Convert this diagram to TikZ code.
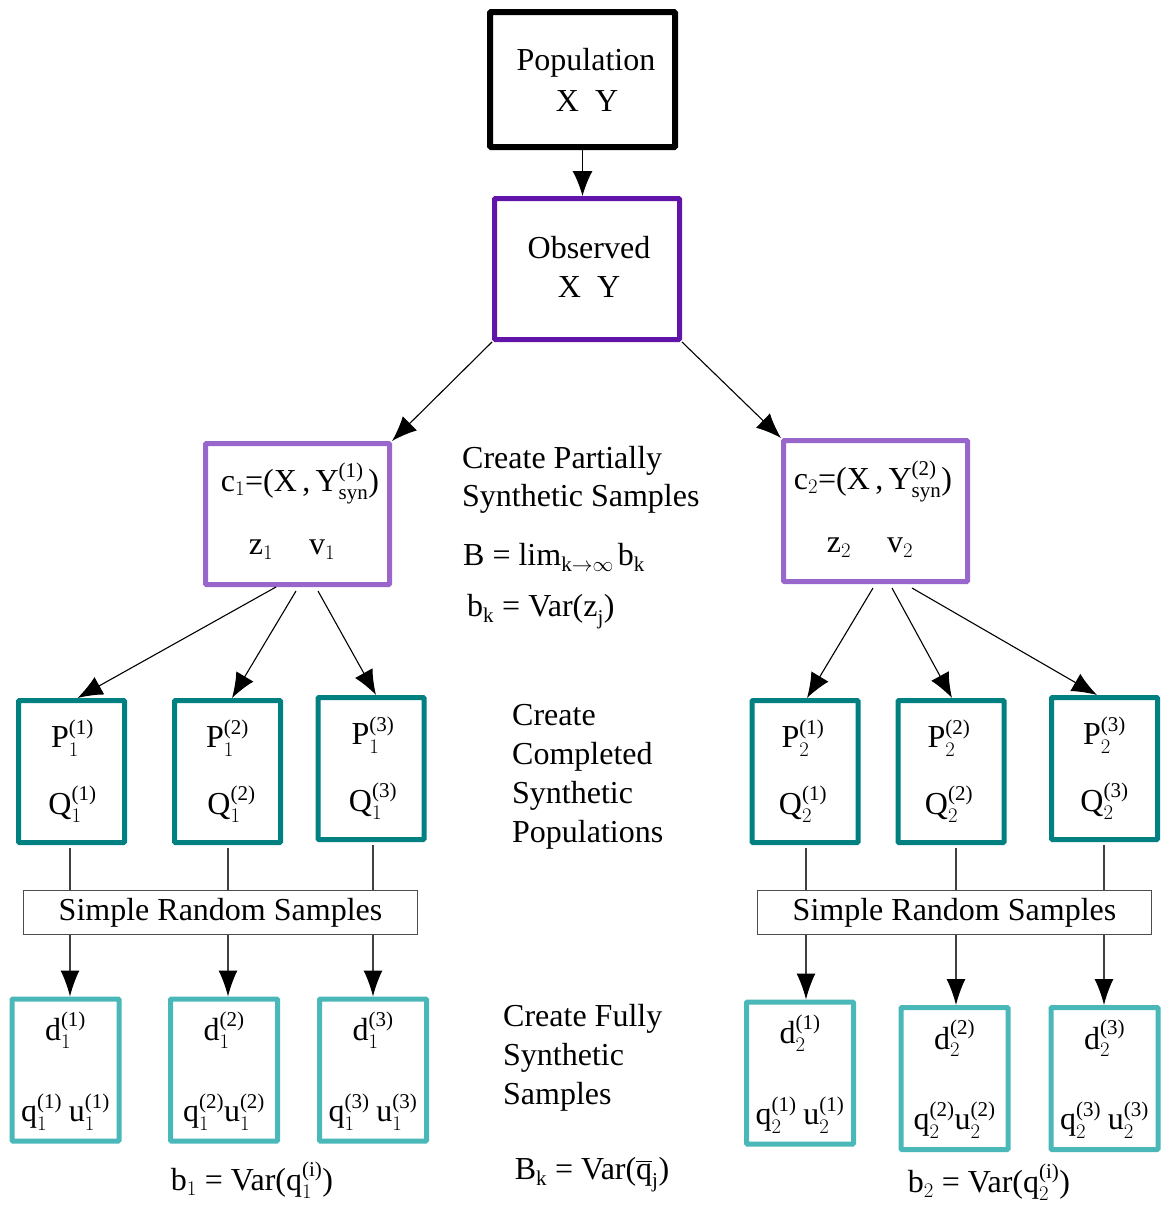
\documentclass[tikz,border=0pt]{standalone}
\usepackage{amsmath}
\usepackage{fontspec}
\setmainfont{Liberation Serif}
\usetikzlibrary{arrows.meta,calc}
\definecolor{obscol}{HTML}{6014A8}
\definecolor{ccol}{HTML}{9966CC}
\definecolor{pcol}{HTML}{008080}
\definecolor{dcol}{HTML}{4AB8B8}
\DeclareMathSizes{32}{32}{21}{16}
\newcommand\tx[1]{\text{#1}}
\begin{document}
\begin{tikzpicture}[x=1pt,y=-1pt,
  font=\fontsize{32}{39}\selectfont,
  every node/.style={inner sep=0pt},
  box/.style={draw, line width=5pt, rounded corners=1pt},
  popbox/.style={box, line width=6pt, minimum width=185pt, minimum height=135pt},
  obsbox/.style={box, draw=obscol, minimum width=185pt, minimum height=141pt},
  cbox/.style={box, draw=ccol, minimum width=184pt, minimum height=141pt},
  pbox/.style={box, draw=pcol, minimum width=106pt, minimum height=142pt},
  dbox/.style={box, draw=dcol, minimum width=107pt, minimum height=142pt},
  srsbox/.style={draw=black!70, line width=1.2pt, minimum width=394pt, minimum height=44pt},
  conn/.style={line width=1.1pt, -{Latex[length=25pt,width=20pt]}},
  vconn/.style={draw=black!75, line width=1.2pt},
  vtip/.style={draw=black!75, line width=1.2pt, -{Latex[length=26pt,width=19pt,color=black]}},
  lbl/.style={anchor=base west}
]
\useasboundingbox (0,0) rectangle (1165,1205);

% top boxes
\node[popbox] (pop) at (582.5,79.5) {};
\node (popt1) at (586,63) {Population};
\node (popt2) at (587,101) {X\hspace{16pt}Y};
\node[obsbox] (obs) at (587,269) {};
\node (obst1) at (589,248) {Observed};
\node (obst2) at (589,287) {X\hspace{16pt}Y};

% partially synthetic
\node[cbox] (c1) at (297.5,514) {};
\node (c1t1) at (300,483) {$\tx{c}_1\tx{=(X\,,\,Y}^{\tx{(1)}}_{\tx{syn}}\tx{)}$};
\node (c1t2) at (292,550) {$\tx{z}_1$\hspace{36pt}$\tx{v}_1$};
\node[cbox] (c2) at (875.5,511) {};
\node (c2t1) at (873,481) {$\tx{c}_2\tx{=(X\,,\,Y}^{\tx{(2)}}_{\tx{syn}}\tx{)}$};
\node (c2t2) at (870,548) {$\tx{z}_2$\hspace{36pt}$\tx{v}_2$};

\node[lbl] (m1a) at (462,468) {Create Partially};
\node[lbl] (m1b) at (462,506) {Synthetic Samples};
\node[anchor=west] (m1c) at (463,557) {$\tx{B = lim}_{\tx{k}\rightarrow\infty}\,\tx{b}_{\tx{k}}$};
\node[anchor=west] (m1d) at (467,612) {$\tx{b}_{\tx{k}}\tx{ = Var(z}_{\tx{j}}\tx{)}$};

% completed populations
\node[pbox] (p11) at (71.5,771.5) {};
\node[pbox] (p12) at (227.5,771.5) {};
\node[pbox] (p13) at (371,768.5) {};
\node[pbox] (p21) at (805,771.5) {};
\node[pbox] (p22) at (951,771.5) {};
\node[pbox] (p23) at (1104.5,768.5) {};
\node (p11a) at ($(p11)+(1,-33)$) {$\tx{P}_1^{\tx{(1)}}$};
\node (p11b) at ($(p11)+(1,33)$) {$\tx{Q}_1^{\tx{(1)}}$};
\node (p12a) at ($(p12)+(0,-33)$) {$\tx{P}_1^{\tx{(2)}}$};
\node (p12b) at ($(p12)+(4,33)$) {$\tx{Q}_1^{\tx{(2)}}$};
\node (p13a) at ($(p13)+(2,-33)$) {$\tx{P}_1^{\tx{(3)}}$};
\node (p13b) at ($(p13)+(2,33)$) {$\tx{Q}_1^{\tx{(3)}}$};
\node (p21a) at ($(p21)+(-2,-33)$) {$\tx{P}_2^{\tx{(1)}}$};
\node (p21b) at ($(p21)+(-2,33)$) {$\tx{Q}_2^{\tx{(1)}}$};
\node (p22a) at ($(p22)+(-2,-33)$) {$\tx{P}_2^{\tx{(2)}}$};
\node (p22b) at ($(p22)+(-2,33)$) {$\tx{Q}_2^{\tx{(2)}}$};
\node (p23a) at ($(p23)+(0,-33)$) {$\tx{P}_2^{\tx{(3)}}$};
\node (p23b) at ($(p23)+(0,33)$) {$\tx{Q}_2^{\tx{(3)}}$};

\node[lbl] (m2a) at (512,725) {Create};
\node[lbl] (m2b) at (512,764) {Completed};
\node[lbl] (m2c) at (512,803) {Synthetic};
\node[lbl] (m2d) at (512,842) {Populations};

% simple random samples
\node[srsbox] (srs1) at (220.5,912.5) {Simple Random Samples};
\node[srsbox] (srs2) at (954.5,912.5) {Simple Random Samples};

% fully synthetic
\node[dbox] (d11) at (65.5,1070) {};
\node[dbox] (d12) at (224,1070) {};
\node[dbox] (d13) at (373,1070) {};
\node[dbox] (d21) at (800,1073) {};
\node[dbox] (d22) at (954.5,1078.5) {};
\node[dbox] (d23) at (1104.5,1078.5) {};
\node (d11a) at ($(d11)+(0,-40)$) {$\tx{d}_1^{\tx{(1)}}$};
\node (d11b) at ($(d11)+(0,42)$) {$\tx{q}_1^{\tx{(1)}}\;\tx{u}_1^{\tx{(1)}}$};
\node (d12a) at ($(d12)+(0,-40)$) {$\tx{d}_1^{\tx{(2)}}$};
\node (d12b) at ($(d12)+(0,42)$) {$\tx{q}_1^{\tx{(2)}}\tx{u}_1^{\tx{(2)}}$};
\node (d13a) at ($(d13)+(0,-40)$) {$\tx{d}_1^{\tx{(3)}}$};
\node (d13b) at ($(d13)+(0,42)$) {$\tx{q}_1^{\tx{(3)}}\;\tx{u}_1^{\tx{(3)}}$};
\node (d21a) at ($(d21)+(0,-40)$) {$\tx{d}_2^{\tx{(1)}}$};
\node (d21b) at ($(d21)+(0,42)$) {$\tx{q}_2^{\tx{(1)}}\;\tx{u}_2^{\tx{(1)}}$};
\node (d22a) at ($(d22)+(0,-40)$) {$\tx{d}_2^{\tx{(2)}}$};
\node (d22b) at ($(d22)+(0,42)$) {$\tx{q}_2^{\tx{(2)}}\tx{u}_2^{\tx{(2)}}$};
\node (d23a) at ($(d23)+(0,-40)$) {$\tx{d}_2^{\tx{(3)}}$};
\node (d23b) at ($(d23)+(0,42)$) {$\tx{q}_2^{\tx{(3)}}\;\tx{u}_2^{\tx{(3)}}$};

\node[lbl] (m3a) at (503,1026) {Create Fully};
\node[lbl] (m3b) at (503,1065) {Synthetic};
\node[lbl] (m3c) at (503,1104) {Samples};

\node (f1) at (252,1180) {$\tx{b}_1\tx{ = Var(q}_1^{\tx{(i)}}\tx{)}$};
\node (f2) at (592,1175) {$\tx{B}_{\tx{k}}\tx{ = Var(}\overline{\tx{q}}_{\tx{j}}\tx{)}$};
\node (f3) at (989,1182) {$\tx{b}_2\tx{ = Var(q}_2^{\tx{(i)}}\tx{)}$};

% connectors
\draw[conn] (pop.south) -- (pop.south |- obs.north);
\draw[conn] (obs.south west) -- (c1.north east);
\draw[conn] (obs.south east) -- (c2.north west);

\draw[conn] ($(c1.south)+(-21.5,0)$) -- ($(p11.north)+(6,0)$);
\draw[conn] ($(c1.south)+(-1.5,4)$) -- ($(p12.north)+(4.5,0)$);
\draw[conn] ($(c1.south)+(20.5,4)$) -- ($(p13.north)+(5,0)$);
\draw[conn] ($(c2.south)+(-2.5,4)$) -- ($(p21.north)+(2,0)$);
\draw[conn] ($(c2.south)+(16.5,4)$) -- ($(p22.north)+(1,0)$);
\draw[conn] ($(c2.south)+(36.5,4)$) -- ($(p23.north)+(-7.5,0)$);

\foreach \p/\d/\s/\dx in {p11/d11/srs1/-1.5, p12/d12/srs1/0.5, p13/d13/srs1/2,
                     p21/d21/srs2/1, p22/d22/srs2/5, p23/d23/srs2/-0.5}{
  \draw[vconn] ($(\p.south)+(\dx,3)$) -- ($(\p.south |- \s.north)+(\dx,0)$);
  \draw[vtip] ($(\p.south |- \s.south)+(\dx,0)$) -- ($(\p.south |- \d.north)+(\dx,0)$);
}
\end{tikzpicture}
\end{document}
